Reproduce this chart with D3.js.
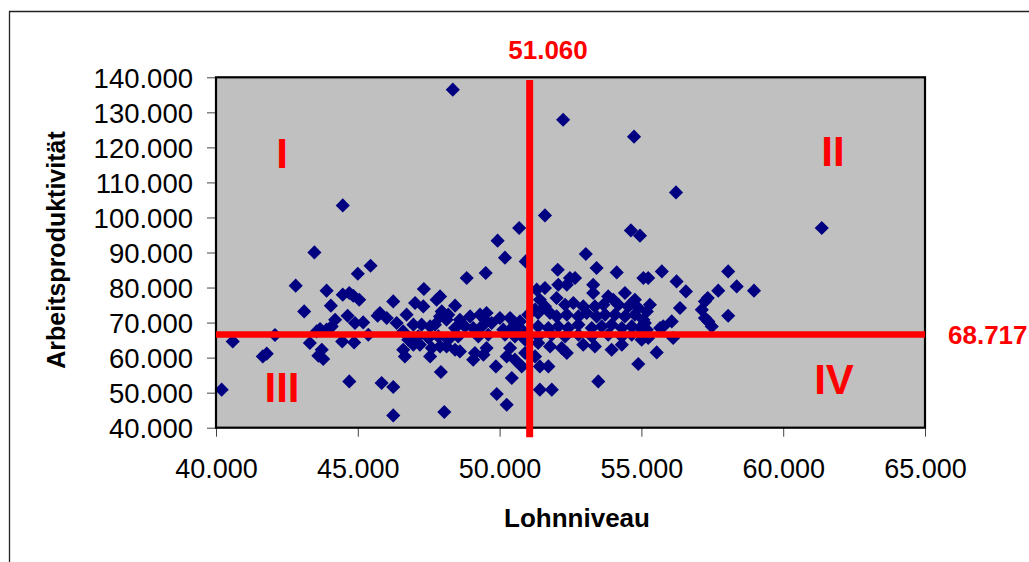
<!DOCTYPE html>
<html>
<head>
<meta charset="utf-8">
<script src="https://cdn.jsdelivr.net/npm/d3@7"></script>
<style>
  body { margin: 0; background: #fff; }
  svg { display: block; font-family: "Liberation Sans", Arial, sans-serif; }
</style>
</head>
<body>
<svg id="chart" width="1029" height="562"></svg>
<script>
// Lohnniveau (x) / Arbeitsproduktivität (y)
var lohn = [
  40200, 40590, 41650, 41790, 42080, 42810, 43110, 43470, 44470, 44700,
  43900, 44050, 44470, 44700, 44840, 45050, 45000, 45450, 44640, 44200,
  44080, 43900, 43670, 43550, 44900, 45190, 43310, 43610, 43780, 43730,
  44450, 44870, 45370, 45700, 45840, 46250, 46250, 46250, 45780, 46020,
  46370, 46720, 47020, 46600, 46780, 46600, 46660, 48350, 51600, 50690,
  49930, 50190, 50920, 48840, 49510, 47330, 47900, 47780, 47310, 48430,
  47960, 48190, 48130, 48960, 49310, 49540, 49480, 49720, 50010, 50370,
  50540, 51010, 51250, 47250, 47550, 47720, 48430, 48780, 49070, 49370,
  50130, 50430, 50780, 47130, 47490, 47840, 48190, 48540, 49250, 49600,
  50190, 50540, 50900, 47190, 47610, 47550, 48130, 48430, 48600, 49130,
  49070, 49430, 49540, 50370, 50250, 50540, 50900, 50780, 47930, 49870,
  50430, 49900, 50250, 48050, 54630, 54950, 53040, 52050, 52480, 52660,
  53420, 54130, 55070, 51600, 52070, 52370, 53300, 53300, 53830, 54420,
  54770, 52010, 52310, 52600, 52950, 53360, 53660, 54010, 54190, 54540,
  54890, 51360, 51780, 52010, 52370, 52780, 53070, 53420, 53720, 54070,
  54420, 54770, 55070, 51360, 51720, 52070, 52420, 52780, 53250, 53600,
  53950, 54310, 54660, 54950, 51360, 51840, 52310, 52780, 53250, 53830,
  54310, 54660, 51360, 51780, 52190, 52370, 52950, 53360, 53950, 54310,
  55010, 51250, 51420, 51720, 54890, 53480, 51420, 51840, 55540, 55720,
  55240, 56240, 56570, 58060, 58360, 58970, 57710, 57340, 57240, 55300,
  55190, 55120, 56360, 57130, 57240, 57360, 57480, 58060, 56070, 55770,
  55660, 56120, 55240, 55190, 56220, 61360, 52240, 54740, 51420, 51600,
  51310, 50720, 46960, 47900, 48600, 46960, 47900
];
var produktivitaet = [
  50850, 64630, 60350, 61120, 66460, 80530, 73190, 90030, 103440, 53210,
  79100, 74820, 77960, 78440, 77670, 76530, 83950, 86230, 71960, 70820,
  68910, 67970, 68170, 67480, 69880, 70050, 64170, 60550, 59610, 62260,
  64630, 64340, 66540, 71960, 52760, 51620, 43510, 76050, 72740, 71310,
  69880, 72250, 75590, 67480, 65120, 62260, 60350, 136470, 100590, 96990,
  93370, 88520, 87460, 82720, 84150, 79590, 77470, 76530, 74620, 74820,
  73190, 72250, 70820, 71770, 72250, 72740, 70820, 69880, 71310, 71310,
  69880, 72250, 73680, 69400, 68910, 69400, 68450, 68910, 68450, 68910,
  67970, 68450, 67970, 66060, 65600, 66060, 65120, 66060, 66060, 66540,
  66540, 66060, 65120, 63690, 62750, 60350, 63200, 62260, 61780, 61320,
  59410, 60830, 62750, 62750, 60350, 59410, 61320, 57500, 55900, 57500,
  54180, 49620, 46560, 44480, 96310, 94800, 89570, 85090, 82720, 82720,
  85580, 84320, 82720, 79870, 80810, 80810, 80810, 78440, 77470, 78440,
  76530, 77020, 75100, 75590, 74620, 74620, 75100, 76530, 75100, 74620,
  74160, 72740, 72740, 71770, 72250, 71770, 72740, 71770, 72250, 72250,
  71770, 72250, 70820, 68910, 68450, 68910, 68450, 69400, 68450, 68910,
  69400, 68450, 68910, 68450, 66060, 66540, 66060, 66540, 66060, 66540,
  66060, 66540, 64170, 63200, 62750, 61320, 63690, 63200, 62260, 63690,
  65120, 60350, 57500, 57500, 58180, 53210, 50850, 50850, 61490, 84610,
  82720, 81750, 78900, 84610, 80330, 79100, 79100, 77020, 76050, 75100,
  73190, 69880, 74160, 73680, 71310, 70340, 68910, 71960, 70340, 68910,
  68450, 65600, 65600, 67970, 107150, 96990, 127900, 123050, 76530, 74620,
  79390, 70340, 69400, 71770, 70820, 63690, 63200
];
var xTicks = [40000, 45000, 50000, 55000, 60000, 65000];
var yTicks = [40000, 50000, 60000, 70000, 80000, 90000, 100000, 110000, 120000, 130000, 140000];
var quadrants = ["I", "II", "III", "IV"];
var meanLohn = 51060, meanLohnLabel = "51.060";
var lineProd = 66600, meanProdLabel = "68.717";

var svg = d3.select("#chart")
  , plotL = 216, plotR = 925, plotT = 77.3, plotB = 427.7
  , red = "#ff0000"
  , de = d3.formatLocale({decimal: ",", thousands: ".", grouping: [3], currency: ["", " €"]})
  , fmt = de.format(",.0f")

var x = d3.scaleLinear().domain([40000, 65000]).range([plotL, plotR]);
var y = d3.scaleLinear().domain([40000, 140000]).range([plotB, plotT]);

// outer chart frame (cut by the picture edge on right and bottom)
svg.append("path")
  .attr("d", "M9.5,563 V11.5 H1030")
  .attr("fill", "none").attr("stroke", "#222").attr("stroke-width", 1.3);

// plot area
svg.append("rect")
  .attr("x", plotL).attr("y", plotT)
  .attr("width", plotR - plotL).attr("height", plotB - plotT)
  .attr("fill", "#c0c0c0");

var yAxis = d3.axisLeft(y).tickValues(yTicks).tickFormat(fmt).tickSize(9).tickPadding(14);
var xAxis = d3.axisBottom(x).tickValues(xTicks).tickFormat(fmt).tickSize(9).tickPadding(22);

svg.append("g").attr("transform", "translate(" + plotL + ",0)").call(yAxis)
  .call(function(g){
    g.select(".domain").remove();
    g.selectAll("line").attr("stroke", "#444");
    g.selectAll("text").attr("font-size", 27.5).attr("fill", "#000")
      .attr("font-family", "Liberation Sans, Arial, sans-serif").attr("dy", "0.36em");
  });
svg.append("g").attr("transform", "translate(0," + plotB + ")").call(xAxis)
  .call(function(g){
    g.select(".domain").remove();
    g.selectAll("line").attr("stroke", "#444");
    g.selectAll("text").attr("font-size", 27).attr("fill", "#000")
      .attr("font-family", "Liberation Sans, Arial, sans-serif");
  });

// points
var pts = d3.range(lohn.length).map(function(i){ return [lohn[i], produktivitaet[i]]; });
var diamond = d3.symbol().type(d3.symbolSquare).size(100);
svg.append("g").selectAll("path")
  .data(pts)
  .enter().append("path")
    .attr("d", diamond)
    .attr("transform", function(d){ return "translate(" + x(d[0]) + "," + y(d[1]) + ") rotate(45)"; })
    .attr("fill", "#000080");

// plot border
svg.append("rect")
  .attr("x", plotL).attr("y", plotT)
  .attr("width", plotR - plotL).attr("height", plotB - plotT)
  .attr("fill", "none").attr("stroke", "#000").attr("stroke-width", 2.2);

// mean lines
svg.append("line")
  .attr("x1", x(40000)).attr("x2", x(65000))
  .attr("y1", y(lineProd)).attr("y2", y(lineProd))
  .attr("stroke", red).attr("stroke-width", 6.5);
svg.append("line")
  .attr("x1", x(meanLohn)).attr("x2", x(meanLohn))
  .attr("y1", y(139200)).attr("y2", y(37300))
  .attr("stroke", red).attr("stroke-width", 7);

svg.append("text").text(meanLohnLabel)
  .attr("x", 548).attr("y", 59).attr("text-anchor", "middle")
  .attr("font-size", 26).attr("font-weight", "bold").attr("fill", red);
svg.append("text").text(meanProdLabel)
  .attr("x", 948).attr("y", 344)
  .attr("font-size", 26).attr("font-weight", "bold").attr("fill", red);

// quadrant numbers
var qPos = [[282, 168], [833, 166], [282, 402], [834, 394]];
svg.append("g").selectAll("text")
  .data(quadrants)
  .enter().append("text")
    .text(function(d){ return d; })
    .attr("x", function(d, i){ return qPos[i][0]; })
    .attr("y", function(d, i){ return qPos[i][1]; })
    .attr("text-anchor", "middle")
    .attr("font-size", 42).attr("font-weight", "bold").attr("fill", red);

// axis titles
svg.append("text").text("Lohnniveau")
  .attr("x", 577).attr("y", 527).attr("text-anchor", "middle")
  .attr("font-size", 26).attr("font-weight", "bold");
svg.append("text").text("Arbeitsproduktivität")
  .attr("transform", "translate(65,250) rotate(-90)")
  .attr("text-anchor", "middle")
  .attr("font-size", 25).attr("font-weight", "bold");
</script>
</body>
</html>
